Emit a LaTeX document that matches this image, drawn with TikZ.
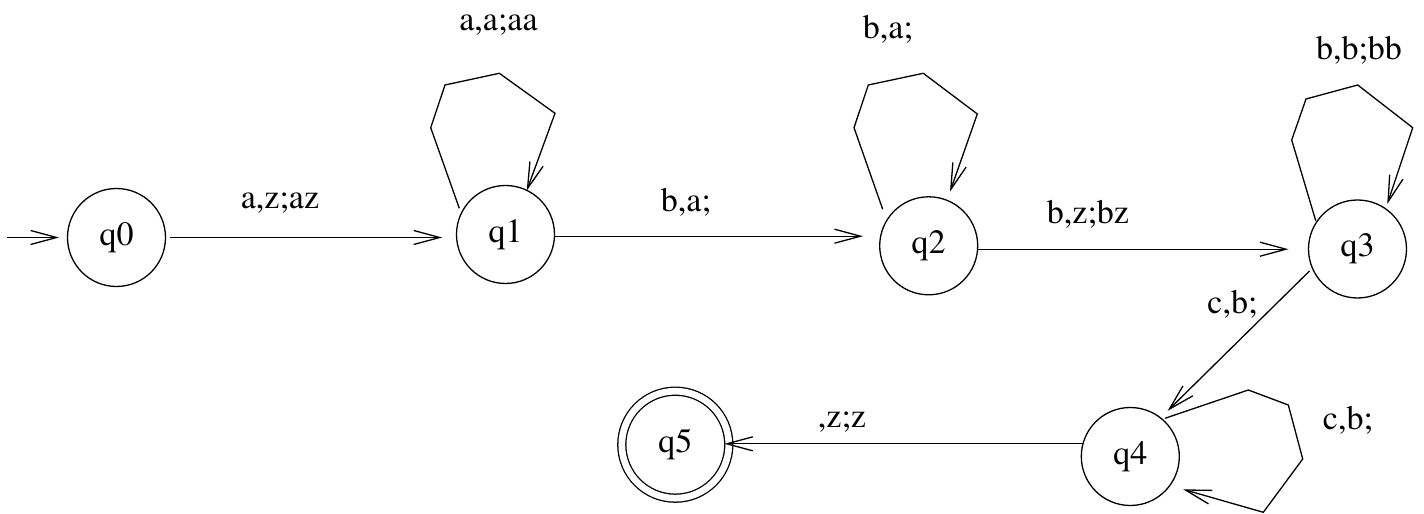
\documentclass[tikz,border=0pt]{standalone}
\usepackage{fontspec}
\setmainfont{texgyretermes-regular.otf}
\usetikzlibrary{arrows.meta,calc}
\begin{document}
\begin{tikzpicture}[x=1bp,y=1bp,
  every node/.style={font=\fontsize{34bp}{40bp}\selectfont},
  state/.style={circle,draw,line width=1.3bp,minimum size=98bp,inner sep=0pt,outer sep=0pt},
  accept/.style={state,double,double distance=6.7bp,minimum size=107bp},
  lbl/.style={anchor=base,inner sep=0pt},
  edge/.style={line width=1.3bp,-{Straight Barb[length=26bp,width=14bp]}},
]
\useasboundingbox (0,0) rectangle (1424,514);

\node[state] (q0) at (116.5,276.5) {q0};
\node[state] (q1) at (505.5,279.5) {q1};
\node[state] (q2) at (928.7,268.2) {q2};
\node[state] (q3) at (1357.5,265) {q3};
\node[state] (q4) at (1130.3,57.5) {q4};
\node[accept] (q5) at (675.3,69.3) {q5};

\coordinate (init) at (6.7,276.5);
\draw[edge,shorten >=8.4bp] (init) -- (q0.west);
\draw[edge,shorten <=4.5bp,shorten >=14.3bp] (q0.east) -- (q0.east -| q1.west);
\draw[edge,shorten >=16.7bp] (q1.-2.9) -- (q1.-2.9 -| q2.west);
\draw[edge,shorten >=20bp] (q2.-4.4) -- (q2.-4.4 -| q3.west);
\draw[edge,shorten <=4bp,shorten >=10bp] (q3.203) -- (q4.52);
\draw[edge,shorten >=-4.5bp] (q4.165) -- (q4.165 -| q5.east);

\draw[edge] ($(q1)+(-46.2,26.2)$) -- (430.7,386.3) -- (445,429) -- (499.3,440.7) -- (555,400.7) -- ($(q1)+(21.2,43.8)$);
\draw[edge] ($(q2)+(-46,36.5)$) -- (854,386.3) -- (868.3,429) -- (923.3,440.7) -- (977.3,400) -- ($(q2)+(21.3,54.1)$);
\draw[edge] ($(q3)+(-41.8,28.3)$) -- (1291.7,374) -- (1306,415) -- (1357.7,429) -- (1412.7,386.3) -- ($(q3)+(29.8,45)$);
\draw[edge] ($(q4)+(34.7,38.2)$) -- (1248.3,124) -- (1288.3,109) -- (1302.7,55) -- (1263.3,1.7) -- ($(q4)+(52.7,-32.8)$);

\node[lbl] (l01) at (280,305.7) {a,z;az};
\node[lbl] (l12) at (686,302.3) {b,a;};
\node[lbl] (l23) at (1088,290.7) {b,z;bz};
\node[lbl] (l34) at (1232.5,200.7) {c,b;};
\node[lbl] (l45) at (842,86.7) {,z;z};
\node[lbl] (l11) at (498.5,483.3) {a,a;aa};
\node[lbl] (l22) at (888,475.7) {b,a;};
\node[lbl] (l33) at (1359,454.7) {b,b;bb};
\node[lbl] (l44) at (1348,84.7) {c,b;};
\end{tikzpicture}
\end{document}
